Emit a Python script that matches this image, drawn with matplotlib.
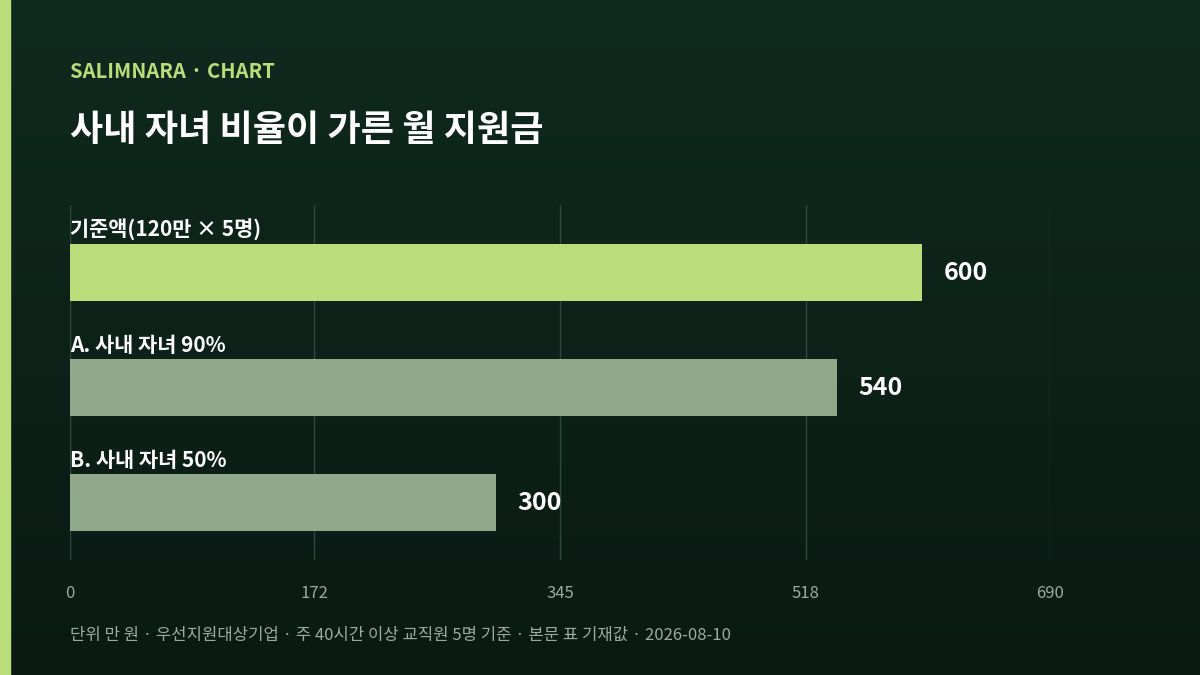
import matplotlib
matplotlib.use("Agg")
import matplotlib.pyplot as plt
import numpy as np

plt.rcParams['font.family'] = ['Noto Sans CJK KR', 'DejaVu Sans']

categories = ["기준액(120만 × 5명)", "A. 사내 자녀 90%", "B. 사내 자녀 50%"]
values = [600, 540, 300]
bar_colors = ["#b8dd7a", "#8fa98a", "#8fa98a"]
ticks = [0, 172, 345, 518, 690]

W, H = 1200, 675
fig = plt.figure(figsize=(12, 6.75), dpi=100)

# background gradient
bg = fig.add_axes([0, 0, 1, 1])
grad = np.linspace(0, 1, 256).reshape(-1, 1)
from matplotlib.colors import LinearSegmentedColormap
cmap = LinearSegmentedColormap.from_list("bg", ["#0f2a1f", "#0a1a13"])
bg.imshow(grad, aspect='auto', cmap=cmap, extent=[0, 1, 0, 1])
bg.add_patch(plt.Rectangle((0, 0), 10 / W, 1, color="#b8dd7a", transform=bg.transAxes))
bg.set_axis_off()

fig.text(70 / W, 1 - 71 / H, "SALIMNARA · CHART", color="#b8dd7a", fontsize=14.5, fontweight='bold', va='center')
fig.text(70 / W, 1 - 130 / H, "사내 자녀 비율이 가른 월 지원금", color="white", fontsize=26, fontweight='bold', va='center')
fig.text(70 / W, 1 - 635 / H, "단위 만 원 · 우선지원대상기업 · 주 40시간 이상 교직원 5명 기준 · 본문 표 기재값 · 2026-08-10",
         color="#9aab9f", fontsize=12, va='center')

ax = fig.add_axes([70 / W, 1 - 560 / H, 980 / W, 355 / H])
ax.set_facecolor('none')
ax.set_xlim(0, 690)
ax.set_ylim(2.5, -0.587)
y = np.arange(len(values))
ax.barh(y, values, height=0.496, color=bar_colors, zorder=3)
for yi, v, c in zip(y, values, categories):
    ax.text(v + 15, yi, f"{v}", color="white", fontsize=18, fontweight='bold', va='center', ha='left')
    ax.text(0, yi - 0.27, c, color="white", fontsize=15, fontweight='bold', va='bottom', ha='left')
ax.set_xticks(ticks)
ax.set_xticklabels([str(t) for t in ticks], color="#9aab9f", fontsize=12)
ax.tick_params(axis='x', length=0, pad=18)
ax.set_yticks([])
ax.grid(axis='x', color="#2e4a3c", linewidth=1, zorder=0)
for s in ax.spines.values():
    s.set_visible(False)

fig.savefig("out.png", dpi=100)
